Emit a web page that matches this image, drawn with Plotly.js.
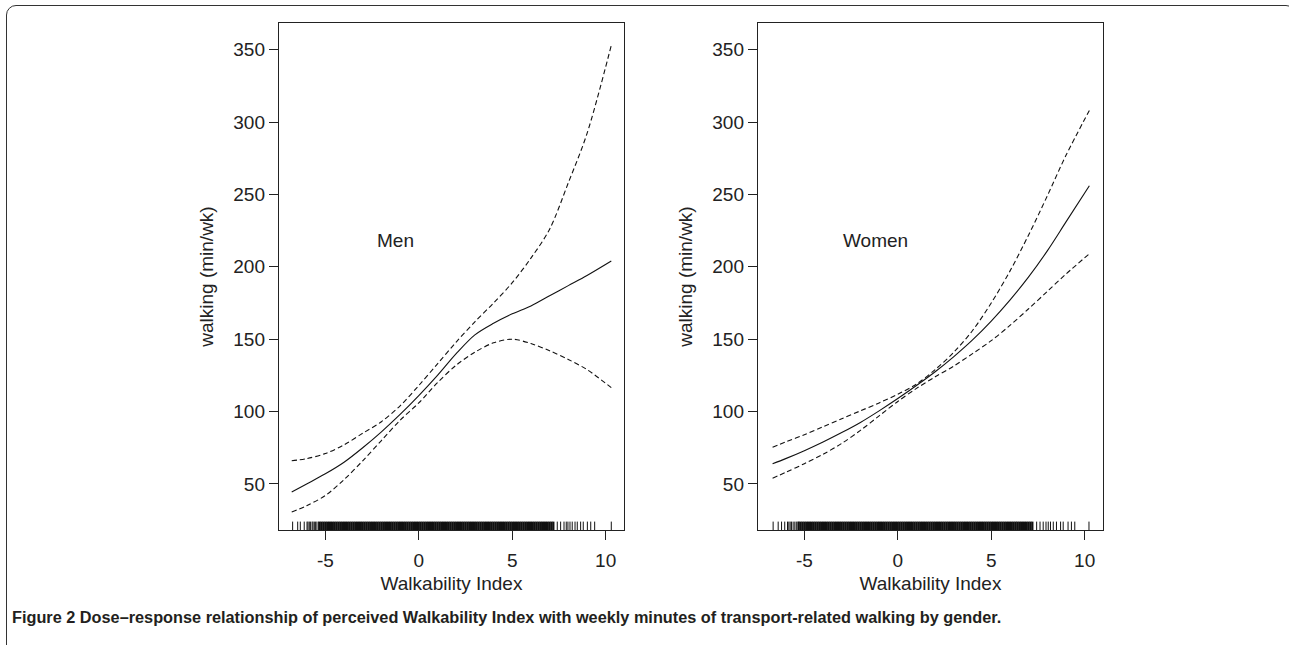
<!DOCTYPE html>
<html>
<head>
<meta charset="utf-8">
<script src="https://cdn.plot.ly/plotly-3.0.1.min.js"></script>
<style>
  html, body { margin: 0; padding: 0; background: #fff; overflow: hidden; }
  #wrap { position: relative; width: 1289px; height: 645px; }
  #chart { position: absolute; left: 0; top: 0; width: 1289px; height: 645px; }
  #frame { position: absolute; left: 6px; top: 5px; width: 1290px; height: 650px;
           border: 1.5px solid #333; border-radius: 10px; box-sizing: border-box; pointer-events: none; }
</style>
</head>
<body>
<div id="wrap">
  <div id="chart"></div>
  <div id="frame"></div>
</div>
<script>
// ---- Data ----
const xTicks = [-5, 0, 5, 10];
const xTickText = ['-5', '0', '5', '10'];
const yTicks = [50, 100, 150, 200, 250, 300, 350];

// Men
const menX      = [-6.8, -6, -5, -4, -3, -2, -1, 0, 1, 2, 3, 4, 5, 6, 7, 8, 9, 10.3];
const menFit    = [44.5, 50, 57, 65, 75, 86, 98, 111, 125, 140, 153, 161, 167.5, 173, 180, 187, 194, 204];
const menUpper  = [66, 67.5, 71, 77, 85, 93, 104, 118, 133, 148, 162, 175, 189, 206, 226, 258, 292, 353];
const menLower  = [30.6, 35, 42, 53, 66, 80, 94, 106, 120, 132, 141, 147.5, 150, 147, 142, 136, 129, 116.5];

// Women
const womenX     = [-6.7, -6, -5, -4, -3, -2, -1, 0, 1, 2, 3, 4, 5, 6, 7, 8, 9, 10.25];
const womenFit   = [64, 67.5, 73, 79, 85.5, 92.5, 100.5, 109, 118, 127.5, 138, 149.5, 162.5, 177, 193, 211, 231, 256];
const womenUpper = [75.3, 79, 84, 89.5, 95, 100.5, 106, 112, 119, 129, 141, 156, 175, 197, 222, 249, 277, 308];
const womenLower = [54, 58, 64, 70.5, 78, 87, 97, 107, 116, 124, 131.5, 140, 149, 159.5, 171, 183, 195, 209];

// Rug (observed Walkability Index values)
const rugDense = [-5.3,-5.2,-5.1,-5.0,-4.9,-4.8,-4.7,-4.6,-4.5,-4.4,-4.3,-4.2,-4.1,-4.0,-3.9,-3.8,-3.7,-3.6,-3.5,-3.4,
  -3.3,-3.2,-3.1,-3.0,-2.9,-2.8,-2.7,-2.6,-2.5,-2.4,-2.3,-2.2,-2.1,-2.0,-1.9,-1.8,-1.7,-1.6,-1.5,-1.4,
  -1.3,-1.2,-1.1,-1.0,-0.9,-0.8,-0.7,-0.6,-0.5,-0.4,-0.3,-0.2,-0.1,0.0,0.1,0.2,0.3,0.4,0.5,0.6,
  0.7,0.8,0.9,1.0,1.1,1.2,1.3,1.4,1.5,1.6,1.7,1.8,1.9,2.0,2.1,2.2,2.3,2.4,2.5,2.6,
  2.7,2.8,2.9,3.0,3.1,3.2,3.3,3.4,3.5,3.6,3.7,3.8,3.9,4.0,4.1,4.2,4.3,4.4,4.5,4.6,
  4.7,4.8,4.9,5.0,5.1,5.2,5.3,5.4,5.5,5.6,5.7,5.8,5.9,6.0,6.1,6.2,6.3,6.4,6.5,6.6,
  6.7,6.8,6.9,7.0,7.1,7.2];
const menRugSparse   = [-6.75,-6.48,-6.34,-6.13,-5.98,-5.93,-5.86,-5.80,-5.71,-5.66,-5.59,-5.52,-5.45,-5.36,
  7.41,7.59,7.77,7.89,7.98,8.09,8.21,8.36,8.48,8.66,8.80,9.02,9.20,9.41,10.30];
const womenRugSparse = [-6.67,-6.40,-6.22,-6.05,-5.90,-5.83,-5.76,-5.69,-5.60,-5.51,-5.43,-5.34,
  7.43,7.61,7.78,7.93,8.05,8.17,8.32,8.49,8.71,8.85,9.11,9.29,9.47,10.23];

const panelLabels = ['Men', 'Women'];
const xTitle = 'Walkability Index';
const yTitle = 'walking (min/wk)';
const caption = '<b>Figure 2 Dose–response relationship of perceived Walkability Index with weekly minutes of transport-related walking by gender.</b>';

// ---- Build ----
const xRange = [-7.48, 10.98];
const yRange = [18.2, 368.4];
const rugH = 5.8;

function rugTrace(vals, xa, ya, w) {
  const xs = [], ys = [];
  vals.forEach(v => { xs.push(v, v, null); ys.push(yRange[0], yRange[0] + rugH, null); });
  return {x: xs, y: ys, xaxis: xa, yaxis: ya, mode: 'lines', line: {color: '#111', width: w}, hoverinfo: 'skip', showlegend: false};
}
function line(x, y, xa, ya, dash) {
  return {x: x, y: y, xaxis: xa, yaxis: ya, mode: 'lines',
    line: {color: '#111', width: 1.1, dash: dash, shape: 'spline', smoothing: 0.9}, showlegend: false};
}

const traces = [
  line(menX, menFit, 'x', 'y', 'solid'),
  line(menX, menUpper, 'x', 'y', '5px,3px'),
  line(menX, menLower, 'x', 'y', '5px,3px'),
  rugTrace(rugDense, 'x', 'y', 2.2),
  rugTrace(menRugSparse, 'x', 'y', 1),
  line(womenX, womenFit, 'x2', 'y2', 'solid'),
  line(womenX, womenUpper, 'x2', 'y2', '5px,3px'),
  line(womenX, womenLower, 'x2', 'y2', '5px,3px'),
  rugTrace(rugDense, 'x2', 'y2', 2.2),
  rugTrace(womenRugSparse, 'x2', 'y2', 1)
];

const W = 1289, H = 645;
const tickFont = {family: 'Liberation Sans, Arial, sans-serif', size: 19, color: '#222'};
function xax(domain, anchor) {
  return {domain: domain, anchor: anchor, range: xRange, tickvals: xTicks, ticktext: xTickText,
    ticks: 'outside', ticklen: 9, ticklabelstandoff: 4,
    tickcolor: '#222', showline: true, mirror: true, linecolor: '#222', linewidth: 1.2, showgrid: false,
    zeroline: false, tickfont: tickFont,
    title: {text: xTitle, font: tickFont, standoff: 6}};
}
function yax(domain, anchor) {
  return {domain: domain, anchor: anchor, range: yRange, tickvals: yTicks, ticks: 'outside', ticklen: 9,
    tickcolor: '#222', showline: true, mirror: true, linecolor: '#222', linewidth: 1.2, showgrid: false,
    zeroline: false, tickfont: tickFont,
    title: {text: yTitle, font: tickFont, standoff: 14}};
}
const yDom = [(H - 530) / H, (H - 23) / H];
const layout = {
  width: W, height: H,
  margin: {l: 0, r: 0, t: 0, b: 0},
  paper_bgcolor: 'rgba(0,0,0,0)', plot_bgcolor: '#fff',
  showlegend: false,
  xaxis: xax([279 / W, 624 / W], 'y'),
  yaxis: yax(yDom, 'x'),
  xaxis2: xax([758 / W, 1103 / W], 'y2'),
  yaxis2: yax(yDom, 'x2'),
  annotations: [
    {x: -1.27, y: 218, xref: 'x', yref: 'y', text: panelLabels[0], showarrow: false, font: tickFont},
    {x: -1.17, y: 218, xref: 'x2', yref: 'y2', text: panelLabels[1], showarrow: false, font: tickFont},
    {x: 10 / W, y: (H - 617) / H, xref: 'paper', yref: 'paper', xanchor: 'left', yanchor: 'middle',
     text: caption, showarrow: false,
     font: {family: 'Liberation Sans Narrow, Arial Narrow, sans-serif', size: 16.3, color: '#231f20'}}
  ]
};
Plotly.newPlot('chart', traces, layout, {staticPlot: true, displayModeBar: false});
</script>
</body>
</html>
